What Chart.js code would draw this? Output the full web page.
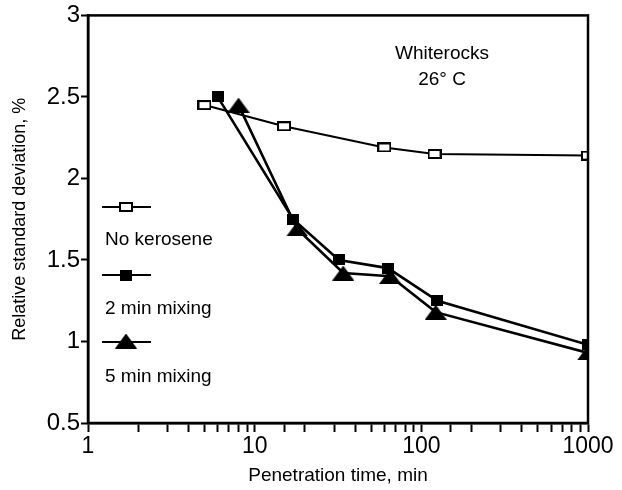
<!DOCTYPE html>
<html>
<head>
<meta charset="utf-8">
<script src="https://cdn.jsdelivr.net/npm/chart.js@4"></script>
<style>
  html, body { margin: 0; padding: 0; background: #fff; }
  #wrap { width: 622px; height: 490px; }
</style>
</head>
<body>
<div id="wrap"><canvas id="chart" width="622" height="490"></canvas></div>
<script>
// Relative standard deviation vs penetration time (Whiterocks, 26 C)
const seriesNames = ['No kerosene', '2 min mixing', '5 min mixing'];

const noKeroseneTime = [5, 15, 60, 120, 1000];
const noKeroseneRsd = [2.45, 2.32, 2.19, 2.15, 2.14];

const mix2Time = [6, 17, 32, 63, 125, 1000];
const mix2Rsd = [2.5, 1.75, 1.5, 1.45, 1.25, 0.98];

const mix5Time = [8, 18, 34, 65, 122, 1000];
const mix5Rsd = [2.45, 1.69, 1.42, 1.4, 1.18, 0.93];

const yTicks = [0.5, 1, 1.5, 2, 2.5, 3];
const xMajorTicks = [1, 10, 100, 1000];

const FONT = '"Liberation Sans", Arial, Helvetica, sans-serif';

function toPoints(xs, ys) {
    return xs.map((x, i) => ({ x: x, y: ys[i] }));
}

// Marker images (the scanned markers are slightly wider than tall)
function makeMarker(w, h, draw) {
    const c = document.createElement('canvas');
    c.width = w;
    c.height = h;
    draw(c.getContext('2d'), w, h);
    return c;
}
const openRect = makeMarker(14, 10, (g, w, h) => {
    g.fillStyle = '#fff';
    g.fillRect(1, 1, w - 2, h - 2);
    g.strokeStyle = '#000';
    g.lineWidth = 2;
    g.strokeRect(1, 1, w - 2, h - 2);
});
const filledRect = makeMarker(12, 11, (g, w, h) => {
    g.fillStyle = '#000';
    g.fillRect(0, 0, w, h);
});
const filledTri = makeMarker(22, 15, (g, w, h) => {
    g.fillStyle = '#000';
    g.beginPath();
    g.moveTo(w / 2, 0);
    g.lineTo(w, h);
    g.lineTo(0, h);
    g.closePath();
    g.fill();
});
const markers = [openRect, filledRect, filledTri];

// Frame around the plot area (top and right sides too)
const framePlugin = {
    id: 'frame',
    afterDatasetsDraw(chart) {
        const { ctx, chartArea: a } = chart;
        ctx.save();
        ctx.strokeStyle = '#000';
        ctx.lineWidth = 2.5;
        ctx.strokeRect(a.left, a.top, a.right - a.left, a.bottom - a.top);
        ctx.restore();
    }
};

// Legend drawn inside the plot: marker line above, label below
const legendPlugin = {
    id: 'sideLegend',
    afterDraw(chart) {
        const ctx = chart.ctx;
        const x0 = 102, x1 = 151, xm = 126;
        const rows = [207, 275, 342];
        const labelY = [240, 309, 377];
        ctx.save();
        rows.forEach((y, i) => {
            ctx.strokeStyle = '#000';
            ctx.lineWidth = 2;
            ctx.beginPath();
            ctx.moveTo(x0, y);
            ctx.lineTo(x1, y);
            ctx.stroke();
            const m = markers[i];
            ctx.drawImage(m, xm - m.width / 2, y - m.height / 2 - (i === 2 ? 1 : 0));
            ctx.fillStyle = '#000';
            ctx.font = '19px ' + FONT;
            ctx.textAlign = 'left';
            ctx.textBaseline = 'middle';
            ctx.fillText(seriesNames[i], 105, labelY[i]);
        });
        // annotation
        ctx.textAlign = 'center';
        ctx.font = '19px ' + FONT;
        ctx.fillText('Whiterocks', 442, 54);
        ctx.fillText('26\u00B0 C', 442, 80);
        ctx.restore();
    }
};

new Chart(document.getElementById('chart').getContext('2d'), {
    type: 'line',
    data: {
        datasets: [
            {
                label: seriesNames[0],
                data: toPoints(noKeroseneTime, noKeroseneRsd),
                borderColor: '#000',
                borderWidth: 2,
                pointStyle: openRect,
                tension: 0
            },
            {
                label: seriesNames[1],
                data: toPoints(mix2Time, mix2Rsd),
                borderColor: '#000',
                borderWidth: 2.6,
                pointStyle: filledRect,
                tension: 0
            },
            {
                label: seriesNames[2],
                data: toPoints(mix5Time, mix5Rsd),
                borderColor: '#000',
                borderWidth: 2.6,
                pointStyle: filledTri,
                tension: 0
            }
        ]
    },
    options: {
        responsive: false,
        animation: false,
        layout: { padding: { top: 14, right: 34, left: 0, bottom: 0 } },
        plugins: {
            legend: { display: false },
            tooltip: { enabled: false }
        },
        scales: {
            x: {
                type: 'logarithmic',
                min: 1,
                max: 1000,
                afterFit(scale) { scale.height = 67; },
                grid: {
                    drawOnChartArea: false,
                    drawTicks: true,
                    tickLength: 9,
                    tickWidth: 2,
                    color: '#000'
                },
                border: { color: '#000', width: 2.5 },
                ticks: {
                    autoSkip: false,
                    maxRotation: 0,
                    padding: 1,
                    color: '#000',
                    font: { family: FONT, size: 23 },
                    callback: function(value) {
                        return xMajorTicks.includes(value) ? String(value) : '';
                    }
                },
                title: {
                    display: true,
                    text: 'Penetration time, min',
                    color: '#000',
                    font: { family: FONT, size: 19 },
                    padding: { top: 2, bottom: 3 }
                }
            },
            y: {
                min: 0.5,
                max: 3,
                afterFit(scale) { scale.width = 88; },
                afterBuildTicks(scale) {
                    scale.ticks = yTicks.map(v => ({ value: v }));
                },
                grid: {
                    drawOnChartArea: false,
                    drawTicks: true,
                    tickLength: 7,
                    tickWidth: 2,
                    color: '#000'
                },
                border: { color: '#000', width: 2.5 },
                ticks: {
                    padding: 1,
                    color: '#000',
                    font: { family: FONT, size: 24 },
                    callback: function(value) { return String(value); }
                },
                title: {
                    display: true,
                    text: 'Relative standard deviation, %',
                    color: '#000',
                    font: { family: FONT, size: 18 },
                    padding: { top: 9, bottom: 2 }
                }
            }
        }
    },
    plugins: [framePlugin, legendPlugin]
});
</script>
</body>
</html>
